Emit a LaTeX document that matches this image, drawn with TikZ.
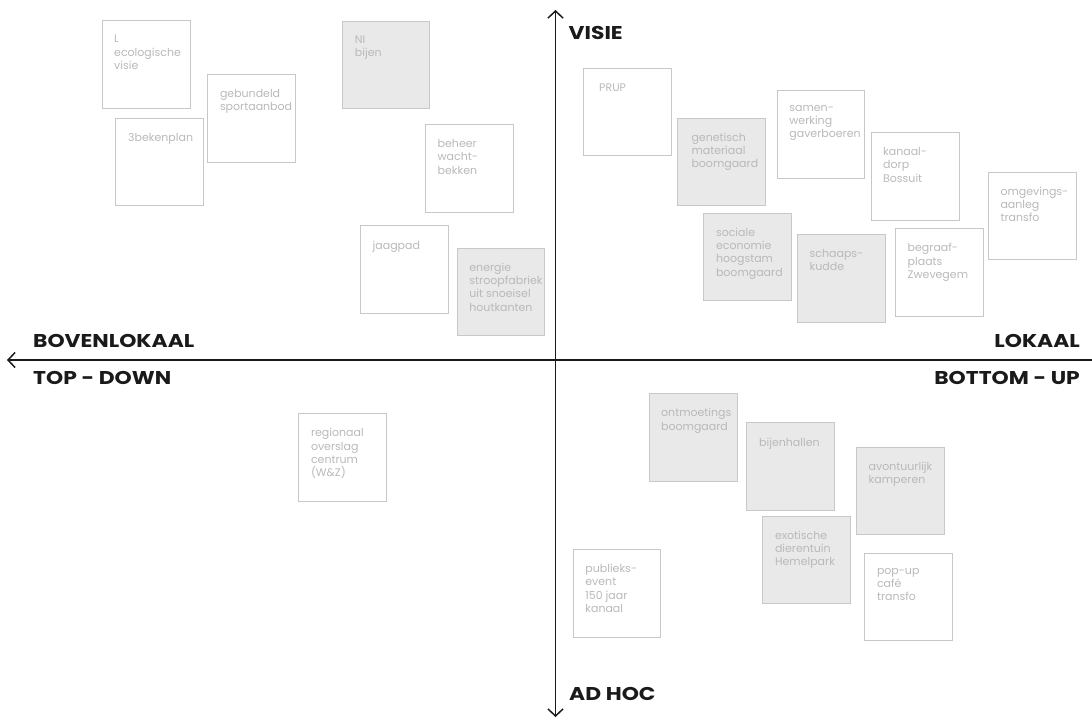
\documentclass[tikz,border=0pt]{standalone}
\usepackage{fontspec}
\setmainfont{Poppins}
\newfontfamily\axfont{Poppins}[FakeStretch=1.18]
\usetikzlibrary{arrows.meta}
\definecolor{axiscol}{RGB}{26,26,26}
\definecolor{boxline}{RGB}{200,200,200}
\definecolor{boxfill}{RGB}{233,233,233}
\definecolor{boxtext}{RGB}{185,185,185}
\tikzset{
  box/.style={draw=boxline, line width=1pt, minimum width=87.5pt, minimum height=87.5pt, inner sep=0pt, anchor=north west},
  filledbox/.style={box, fill=boxfill},
  lbl/.style={anchor=north west, inner sep=0pt, align=left, text=boxtext, font=\fontsize{11}{13.3}\selectfont, execute at begin node={\rule{0pt}{9pt}}},
  axis/.style={draw=axiscol, line width=1.5pt},
  axtip/.style={-{Straight Barb[length=7pt,width=15pt]}},
  axlabel/.style={inner sep=0pt, text=axiscol, font=\axfont\fontsize{18.5}{18.5}\selectfont\bfseries}
}
\begin{document}
\begin{tikzpicture}[x=1pt,y=-1pt]
\useasboundingbox (0,0) rectangle (1092,718);
% axes
\coordinate (xl) at (7,360);
\coordinate (xr) at (1092,360);
\coordinate (yt) at (555.5,10);
\coordinate (yb) at (555.5,717);
\coordinate (c) at (555.5,360);
\draw[axis, axtip] (xr) -- (xl);
\draw[axis, axtip] (c) -- (yt);
\draw[axis, axtip] (c) -- (yb);
\node[axlabel, anchor=base west] (visie) at (568.5,39.5) {VISIE};
\node[axlabel, anchor=base west] (boven) at (33,347) {BOVENLOKAAL};
\node[axlabel, anchor=base west] (topdown) at (33,384) {TOP - DOWN};
\node[axlabel, anchor=base east] (lokaal) at (1080,347) {LOKAAL};
\node[axlabel, anchor=base east] (bottomup) at (1080,384) {BOTTOM - UP};
\node[axlabel, anchor=base west] (adhoc) at (569,700.7) {AD HOC};
% boxes
\node[box] (b1) at (102,20) {};
\node[lbl] (t1) at ([shift={(12,15)}]b1.north west) {L\\ecologische\\visie};
\node[box] (b2) at (207.3,74.3) {};
\node[lbl] (t2) at ([shift={(12.5,15)}]b2.north west) {gebundeld\\sportaanbod};
\node[box] (b3) at (115,117.7) {};
\node[lbl] (t3) at ([shift={(13,15)}]b3.north west) {3bekenplan};
\node[filledbox] (b4) at (341.7,20.7) {};
\node[lbl] (t4) at ([shift={(13,15)}]b4.north west) {NI\\bijen};
\node[box] (b5) at (425,124.3) {};
\node[lbl] (t5) at ([shift={(12.5,15)}]b5.north west) {beheer\\wacht-\\bekken};
\node[box] (b6) at (360,225.3) {};
\node[lbl] (t6) at ([shift={(12.5,15)}]b6.north west) {jaagpad};
\node[filledbox] (b7) at (456.7,247.7) {};
\node[lbl] (t7) at ([shift={(12.5,15)}]b7.north west) {energie\\stroopfabriek\\uit snoeisel\\houtkanten};
\node[box] (b8) at (583,67.7) {};
\node[lbl] (t8) at ([shift={(16,15)}]b8.north west) {PRUP};
\node[filledbox] (b9) at (677.3,117.7) {};
\node[lbl] (t9) at ([shift={(14,15)}]b9.north west) {genetisch\\materiaal\\boomgaard};
\node[box] (b10) at (776.7,90) {};
\node[lbl] (t10) at ([shift={(12.5,15)}]b10.north west) {samen-\\werking\\gaverboeren};
\node[box] (b11) at (871,132.3) {};
\node[lbl] (t11) at ([shift={(12,15)}]b11.north west) {kanaal-\\dorp\\Bossuit};
\node[box] (b12) at (988.3,171.7) {};
\node[lbl] (t12) at ([shift={(12,15)}]b12.north west) {omgevings-\\aanleg\\transfo};
\node[filledbox] (b13) at (703.3,212.7) {};
\node[lbl] (t13) at ([shift={(12.5,15)}]b13.north west) {sociale\\economie\\hoogstam\\boomgaard};
\node[filledbox] (b14) at (797,234) {};
\node[lbl] (t14) at ([shift={(12.5,15)}]b14.north west) {schaaps-\\kudde};
\node[box] (b15) at (895,228.3) {};
\node[lbl] (t15) at ([shift={(12.5,15)}]b15.north west) {begraaf-\\plaats\\Zwevegem};
\node[filledbox] (b16) at (649,393.3) {};
\node[lbl] (t16) at ([shift={(12,15)}]b16.north west) {ontmoetings\\boomgaard};
\node[filledbox] (b17) at (746,422.3) {};
\node[lbl] (t17) at ([shift={(13,15)}]b17.north west) {bijenhallen};
\node[filledbox] (b18) at (856,446.7) {};
\node[lbl] (t18) at ([shift={(12.5,15)}]b18.north west) {avontuurlijk\\kamperen};
\node[filledbox] (b19) at (762.3,515.7) {};
\node[lbl] (t19) at ([shift={(12.5,15)}]b19.north west) {exotische\\dierentuin\\Hemelpark};
\node[box] (b20) at (572.7,549) {};
\node[lbl] (t20) at ([shift={(12.5,15)}]b20.north west) {publieks-\\event\\150 jaar\\kanaal};
\node[box] (b21) at (864.3,552.7) {};
\node[lbl] (t21) at ([shift={(12.5,15)}]b21.north west) {pop-up\\café\\transfo};
\node[box] (b22) at (298.3,413.3) {};
\node[lbl] (t22) at ([shift={(12.5,15)}]b22.north west) {regionaal\\overslag\\centrum\\(W\&Z)};
\end{tikzpicture}
\end{document}
